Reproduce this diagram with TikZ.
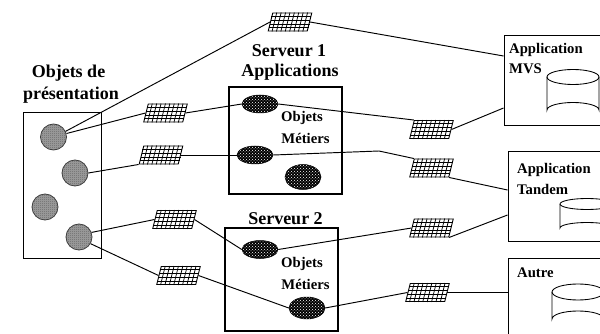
\documentclass[tikz,border=0pt]{standalone}
\usepackage{fontspec}
\setmainfont{Liberation Serif}
\usetikzlibrary{patterns,calc,shapes.geometric}
\pgfdeclarepatternformonly{pointsgros}{\pgfqpoint{-.5pt}{-.5pt}}{\pgfqpoint{3pt}{3pt}}{\pgfqpoint{3pt}{3pt}}{%
  \pgfpathcircle{\pgfqpoint{.6pt}{.6pt}}{.5pt}\pgfpathcircle{\pgfqpoint{2.1pt}{2.1pt}}{.5pt}\pgfusepath{fill}}
\pgfdeclarepatternformonly{damier}{\pgfqpoint{0pt}{0pt}}{\pgfqpoint{2pt}{2pt}}{\pgfqpoint{2pt}{2pt}}{%
  \pgfpathrectangle{\pgfqpoint{0pt}{0pt}}{\pgfqpoint{1pt}{1pt}}\pgfpathrectangle{\pgfqpoint{1pt}{1pt}}{\pgfqpoint{1pt}{1pt}}\pgfusepath{fill}}
\tikzset{
  titre/.style={font=\bfseries\fontsize{18}{20}\selectfont,inner sep=0pt,anchor=center},
  etiq/.style={font=\bfseries\fontsize{14.7}{16}\selectfont,inner sep=0pt,anchor=center},
  appl/.style={font=\bfseries\fontsize{14.7}{16}\selectfont,inner sep=0pt,anchor=west},
  boite/.style={draw,line width=.9pt,inner sep=0pt},
  serveur/.style={draw,line width=1.7pt,inner sep=0pt},
  rond/.style={circle,draw=black!75,line width=.8pt,minimum size=26pt,inner sep=0pt,
    preaction={fill=gray!75},pattern=damier,pattern color=black!60},
  objet/.style={ellipse,draw,line width=.5pt,inner sep=0pt,
    preaction={fill=black},pattern=pointsgros,pattern color=white},
  lien/.style={draw,line width=.95pt},
  grillebox/.style={rectangle,draw,line width=.95pt,fill=white,minimum width=39pt,minimum height=18pt,inner sep=0pt,xslant=.25},
  grilletrait/.style={line width=.75pt},
  cyl/.style={draw,line width=.85pt}
}
\newcommand{\grille}[3]{%
  \node[grillebox] (#1) at (#2,#3) {};
  \foreach \t in {.11,.22,.33,.44,.55,.66,.77,.88}
    \draw[grilletrait] ($(#1.south west)!\t!(#1.south east)$) -- ($(#1.north west)!\t!(#1.north east)$);
  \foreach \t in {.2,.4,.6,.8}
    \draw[grilletrait] ($(#1.south west)!\t!(#1.north west)$) -- ($(#1.south east)!\t!(#1.north east)$);
}
\newcommand{\cylindre}[5]{% cx, ytop-centre, rx, ry, ybottom-centre
  \draw[cyl] (#1-#3,#2) arc[start angle=180,end angle=-180,x radius=#3,y radius=#4];
  \draw[cyl] (#1-#3,#2) -- (#1-#3,#5) arc[start angle=180,end angle=360,x radius=#3,y radius=#4] -- (#1+#3,#2);
}
\begin{document}
\begin{tikzpicture}[x=1pt,y=-1pt]
\path[use as bounding box,clip] (0,0) rectangle (600,334);
\fill[white] (0,0) rectangle (600,334);

% Boxes
\node[boite,minimum width=78pt,minimum height=146pt] (pres) at (62,185) {};
\node[serveur,minimum width=113pt,minimum height=107pt] (s1) at (285.5,140.5) {};
\node[serveur,minimum width=113pt,minimum height=103pt] (s2) at (281.5,279.5) {};
\node[boite,minimum width=120pt,minimum height=90pt] (mvs) at (564,80) {};
\node[boite,minimum width=120pt,minimum height=90pt] (tan) at (568,196) {};
\node[boite,minimum width=120pt,minimum height=90pt] (aut) at (568,303) {};

% Round objects
\node[rond] (c1) at (53.5,137) {};
\node[rond] (c2) at (75,173) {};
\node[rond] (c3) at (45,207) {};
\node[rond] (c4) at (79,237) {};

% Business objects
\node[objet,minimum width=36pt,minimum height=18pt] (o1) at (260,104) {};
\node[objet,minimum width=36pt,minimum height=18pt] (o2) at (255,155) {};
\node[objet,minimum width=36pt,minimum height=25pt] (o3) at (303,177) {};
\node[objet,minimum width=36pt,minimum height=18pt] (o4) at (260,249.5) {};
\node[objet,minimum width=36pt,minimum height=22pt] (o5) at (307,308) {};

% Grids
\grille{p1}{290}{22}
\grille{p2}{165.5}{113}
\grille{p3}{161}{155}
\grille{p4}{431.5}{129.5}
\grille{p5}{431.5}{168}
\grille{p6}{174.5}{219.5}
\grille{p7}{178.5}{275.5}
\grille{p8}{431.5}{228}
\grille{p9}{427.5}{292.5}

% Connectors
\draw[lien] (c1.25) -- (p1.west);
\draw[lien] (c1.15) -- (p2.west);
\draw[lien] (p2.east) -- (o1.west);
\draw[lien] (o1.east) -- (p4.north west);
\draw[lien] (p4.east) -- (mvs.west |- 0,108);
\draw[lien] (p1.east) -- (mvs.west |- 0,56);
\draw[lien] (c2.east) -- (p3.south west);
\draw[lien] (p3.east) -- (o2.west);
\coordinate (coude) at (379,151);
\draw[lien] (o2.east) -- (coude) -- (p5.north west);
\draw[lien] (p5.south east) -- (tan.west |- 0,190);
\draw[lien] (c4.20) -- (p6.west);
\draw[lien] (p6.east) -- (o4.west);
\draw[lien] (o4.east) -- (p8.west);
\draw[lien] (p8.south east) -- (tan.west |- 0,215);
\draw[lien] (c4.-30) -- (p7.west);
\draw[lien] (p7.east) -- (o5.west);
\draw[lien] (o5.east) -- (p9.west);
\draw[lien] (p9.east) -- (aut.west |- p9.east);

% Cylinders
\cylindre{573}{77}{26}{7.5}{110}
\cylindre{587}{204}{27}{5.5}{228}
\cylindre{578}{292}{26}{8}{319}

% Text
\node[titre] (t1) at (68.5,73) {Objets de};
\node[titre] (t2) at (71,95) {présentation};
\node[titre] (t3) at (289,51) {Serveur 1};
\node[titre] (t4) at (290,72) {Applications};
\node[titre] (t5) at (285.5,219) {Serveur 2};
\node[etiq] (m1) at (302,118) {Objets};
\node[etiq] (m2) at (305.5,138) {Métiers};
\node[etiq] (m3) at (302,264) {Objets};
\node[etiq] (m4) at (305.5,284) {Métiers};
\node[appl] (a1) at (509,50) {Application};
\node[appl] (a2) at (509,69) {MVS};
\node[appl] (a3) at (517,170) {Application};
\node[appl] (a4) at (517,189) {Tandem};
\node[appl] (a5) at (517,273) {Autre};
\end{tikzpicture}
\end{document}
